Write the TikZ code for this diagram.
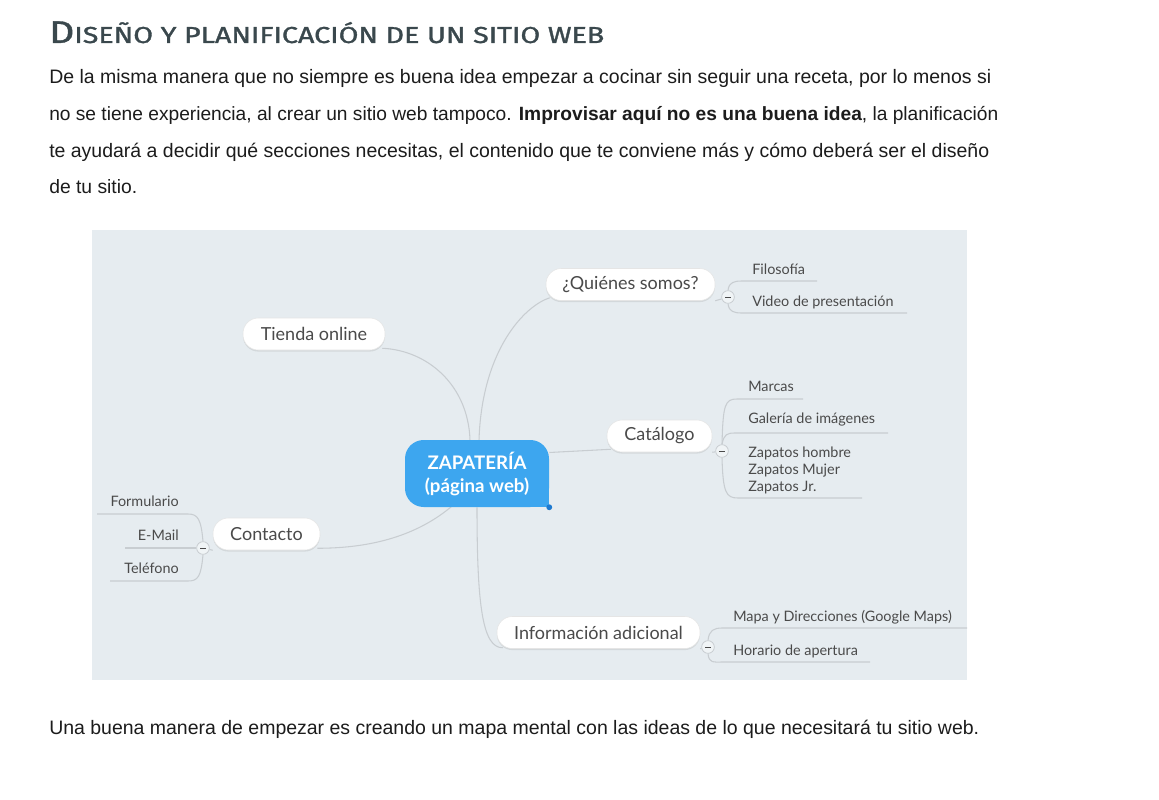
\documentclass[tikz,border=0pt]{standalone}
\usepackage{fontspec}
\setmainfont{Liberation Sans}
\newfontfamily\mapfont{Lato}
\newfontfamily\titlefont[FakeBold=1.2]{Fira Sans}
\usetikzlibrary{calc,shadows}
\definecolor{bgmap}{HTML}{E6ECF0}
\definecolor{connc}{HTML}{C8CDD1}
\definecolor{zblue}{HTML}{3DA6EF}
\definecolor{zdot}{HTML}{1E7AD0}
\definecolor{titlec}{HTML}{3A484D}
\definecolor{bodyc}{HTML}{1C1C1C}
\definecolor{mapt}{HTML}{4A4A4A}
\pgfdeclarelayer{bg}
\pgfsetlayers{bg,main}
\tikzset{
  pill/.style={draw=black!10, fill=white, rounded corners=11.5pt, minimum height=24pt,
    inner xsep=0pt, font=\mapfont\fontsize{13.5}{15}\selectfont, text=mapt,
    drop shadow={opacity=0.18, shadow xshift=0pt, shadow yshift=-1.2pt}},
  zbox/.style={fill=zblue, rounded corners=14pt, minimum width=108pt, minimum height=50.25pt,
    align=center, text=white, font=\mapfont\bfseries\fontsize{14}{17.25}\selectfont},
  child/.style={font=\mapfont\fontsize{10.8}{12.75}\selectfont, text=mapt, inner sep=0pt},
  conn/.style={draw=connc, line width=0.8pt},
  btn/.style={circle, draw=connc, fill=bgmap!60!white, minimum size=9.5pt, inner sep=0pt, line width=0.6pt,
    path picture={\draw[mapt, line width=0.6pt] (path picture bounding box.center) +(-2.2pt,0) -- +(2.2pt,0);}},
  body/.style={inner sep=0pt, anchor=base west, text=bodyc, font=\fontsize{13.5}{16}\selectfont},
}
\begin{document}
\begin{tikzpicture}[x=0.75pt,y=-0.75pt]
\useasboundingbox (0,0) rectangle (1159,799);
\begin{pgfonlayer}{bg}
\fill[white] (0,0) rectangle (1159,799);
\fill[bgmap] (92,230) rectangle (967,680);
\end{pgfonlayer}

% title and paragraph
\node[inner sep=0pt, anchor=base west, text=titlec] (title) at (49,43)
  {\resizebox{416.25pt}{\height}{\titlefont{\fontsize{23.5}{24}\selectfont D}{\fontsize{17.3}{18}\selectfont ISEÑO Y PLANIFICACIÓN DE UN SITIO WEB}}};
\node[body] (p1) at (49,84) {\resizebox{706.5pt}{!}{De la misma manera que no siempre es buena idea empezar a cocinar sin seguir una receta, por lo menos si}};
\node[body] (p2) at (49,120.5) {\resizebox{711.75pt}{!}{no se tiene experiencia, al crear un sitio web tampoco. \textbf{Improvisar aquí no es una buena idea}, la planificación}};
\node[body] (p3) at (49,157) {\resizebox{705pt}{!}{te ayudará a decidir qué secciones necesitas, el contenido que te conviene más y cómo deberá ser el diseño}};
\node[body] (p4) at (49,193.5) {\resizebox{66pt}{!}{de tu sitio.}};
\node[body] (p5) at (49,734) {\resizebox{697.5pt}{!}{Una buena manera de empezar es creando un mapa mental con las ideas de lo que necesitará tu sitio web.}};

% central and main nodes
\node[zbox] (Z) at (477,473.5) {ZAPATERÍA\\(página web)};
\fill[zblue] (Z.south east) rectangle ++(-16,-16);
\fill[zdot] (Z.south east) circle (2.2pt);

\node[pill, minimum width=106.5pt] (T) at (314,334) {Tienda online};
\node[pill, minimum width=126.75pt] (Q) at (630.5,284.5) {¿Quiénes somos?};
\node[pill, minimum width=78.75pt] (C) at (659.5,436) {Catálogo};
\node[pill, minimum width=80.25pt] (K) at (266.5,534) {Contacto};
\node[pill, minimum width=152.25pt] (I) at (598.5,632.5) {Información adicional};

% buttons
\node[btn] (bQ) at (728,297) {};
\node[btn] (bC) at (722,451) {};
\node[btn] (bK) at (203,548) {};
\node[btn] (bI) at (708,647) {};

% children
\node[child, anchor=west] (q1) at (752,269) {Filosofía};
\node[child, anchor=west] (q2) at (752,302) {Video de presentación};
\node[child, anchor=west] (c1) at (748,386) {Marcas};
\node[child, anchor=west] (c2) at (748,420) {Galería de imágenes};
\node[child, anchor=west, align=left] (c3) at (748,470) {Zapatos hombre\\Zapatos Mujer\\Zapatos Jr.};
\node[child, anchor=east] (k1) at (179,501) {Formulario};
\node[child, anchor=east] (k2) at (179,535) {E-Mail};
\node[child, anchor=east] (k3) at (179,568) {Teléfono};
\node[child, anchor=west] (i1) at (733,617) {Mapa y Direcciones (Google Maps)};
\node[child, anchor=west] (i2) at (733,651) {Horario de apertura};

% underline end points
\coordinate (q1a) at (742,281); \coordinate (q1b) at (817,281);
\coordinate (q2a) at (742,313); \coordinate (q2b) at (907,313);
\coordinate (c1a) at (737,399); \coordinate (c1b) at (803,399);
\coordinate (c2a) at (735,433); \coordinate (c2b) at (888,433);
\coordinate (c3a) at (738,498); \coordinate (c3b) at (862,498);
\coordinate (k1a) at (188,514); \coordinate (k1b) at (97,514);
\coordinate (k2b) at (125,548);
\coordinate (k3a) at (188,581); \coordinate (k3b) at (110,581);
\coordinate (i1a) at (722,628); \coordinate (i1b) at (967,628);
\coordinate (i2a) at (722,662); \coordinate (i2b) at (870,662);

\begin{pgfonlayer}{bg}
% main connectors
\draw[conn] ($(Z.north)+(-7,0)$) .. controls +(-2,-55) and +(45,2) .. ($(T.south east)+(-3,-2)$);
\draw[conn] ($(Z.north)+(2,0)$) .. controls +(3,-90) and +(-25,8) .. ($(Q.south west)+(4,-3)$);
\draw[conn] ($(Z.east)+(0,-21)$) -- ($(C.south west)+(4,-3)$);
\draw[conn] ($(Z.south)+(-24,-2)$) .. controls +(-35,30) and +(55,0) .. ($(K.south east)+(-3,-2)$);
\draw[conn] (Z.south) .. controls +(0,100) and +(-20,0) .. ($(I.south west)+(6,-1)$);
\draw[conn] (Q.south east) -- (bQ);
\draw[conn] (C.south east) -- (bC);
\draw[conn] (K.south west) -- (bK);
\draw[conn] (I.south east) -- (bI);
% child connectors
\draw[conn] (bQ.north) .. controls +(1,-8) and +(-8,0) .. (q1a) -- (q1b);
\draw[conn] (bQ.south) .. controls +(1,8) and +(-8,0) .. (q2a) -- (q2b);
\draw[conn] (bC.north) .. controls +(1,-40) and +(-12,0) .. (c1a) -- (c1b);
\draw[conn] (bC.north) .. controls +(2,-10) and +(-8,0) .. (c2a) -- (c2b);
\draw[conn] (bC.south) .. controls +(1,35) and +(-12,0) .. (c3a) -- (c3b);
\draw[conn] (bK.north) .. controls +(-2,-22) and +(10,0) .. (k1a) -- (k1b);
\draw[conn] (bK.west) -- (k2b);
\draw[conn] (bK.south) .. controls +(-2,22) and +(10,0) .. (k3a) -- (k3b);
\draw[conn] (bI.north) .. controls +(1,-10) and +(-8,0) .. (i1a) -- (i1b);
\draw[conn] (bI.south) .. controls +(1,10) and +(-8,0) .. (i2a) -- (i2b);
\end{pgfonlayer}
\end{tikzpicture}
\end{document}
